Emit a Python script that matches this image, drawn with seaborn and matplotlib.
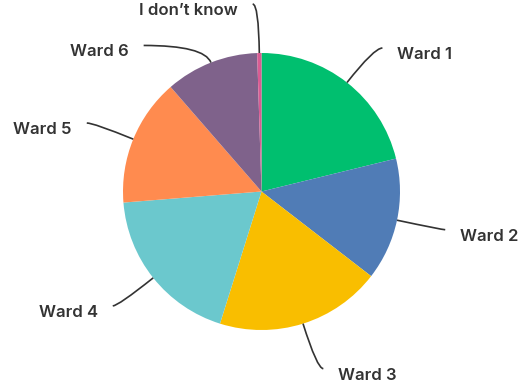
import numpy as np
import matplotlib
matplotlib.use("Agg")
import matplotlib.pyplot as plt
from matplotlib.path import Path
from matplotlib.patches import PathPatch
import seaborn as sns

labels = ["Ward 1", "Ward 2", "Ward 3", "Ward 4", "Ward 5", "Ward 6", "I don\u2019t know"]
values = [21.2, 14.3, 19.4, 18.9, 14.9, 10.9, 0.5]
colors = ["#00BF6F", "#507CB6", "#F9BE00", "#6BC8CD", "#FF8B4F", "#7F628B", "#D95C93"]
# label angle adjustments (degrees) to avoid collisions
label_shift = [-2.0, 0.2, 1.8, -1.0, 0.8, 17.5, 1.8]

sns.set_theme(style="white")
plt.rcParams['font.family'] = ['Inter', 'DejaVu Sans']

W, H, DPI = 524, 383, 100
fig = plt.figure(figsize=(W / DPI, H / DPI), dpi=DPI)
ax = fig.add_axes([0, 0, 1, 1])
R_PX = 138.5
cx, cy = 261.5, 191.5

wedges, _ = ax.pie(values, colors=colors, startangle=90, counterclock=False,
                   radius=1.0, wedgeprops=dict(linewidth=0))

gap = 15 / R_PX
for w, lab, sh in zip(wedges, labels, label_shift):
    mid = np.deg2rad((w.theta1 + w.theta2) / 2)
    sx, sy = np.cos(mid), np.sin(mid)
    b = mid + np.deg2rad(sh)
    ex, ey = 1.355 * np.cos(b), 1.355 * np.sin(b)
    s = ey / sy
    ctrl = (s * sx, ey)
    path = Path([(sx, sy), ctrl, (ex, ey)], [Path.MOVETO, Path.CURVE3, Path.CURVE3])
    ax.add_patch(PathPatch(path, fill=False, edgecolor="#333333", linewidth=1.2))
    right = ex >= 0
    tx = ex + gap if right else ex - gap
    ax.text(tx, ey - 6.5 / R_PX, lab, ha="left" if right else "right", va="center",
            fontsize=12, color="#333333", fontweight="semibold")

ax.set_xlim(-cx / R_PX, (W - cx) / R_PX)
ax.set_ylim(-(H - cy) / R_PX, cy / R_PX)
ax.set_aspect("equal")
ax.axis("off")

fig.savefig("out.png", dpi=DPI)
